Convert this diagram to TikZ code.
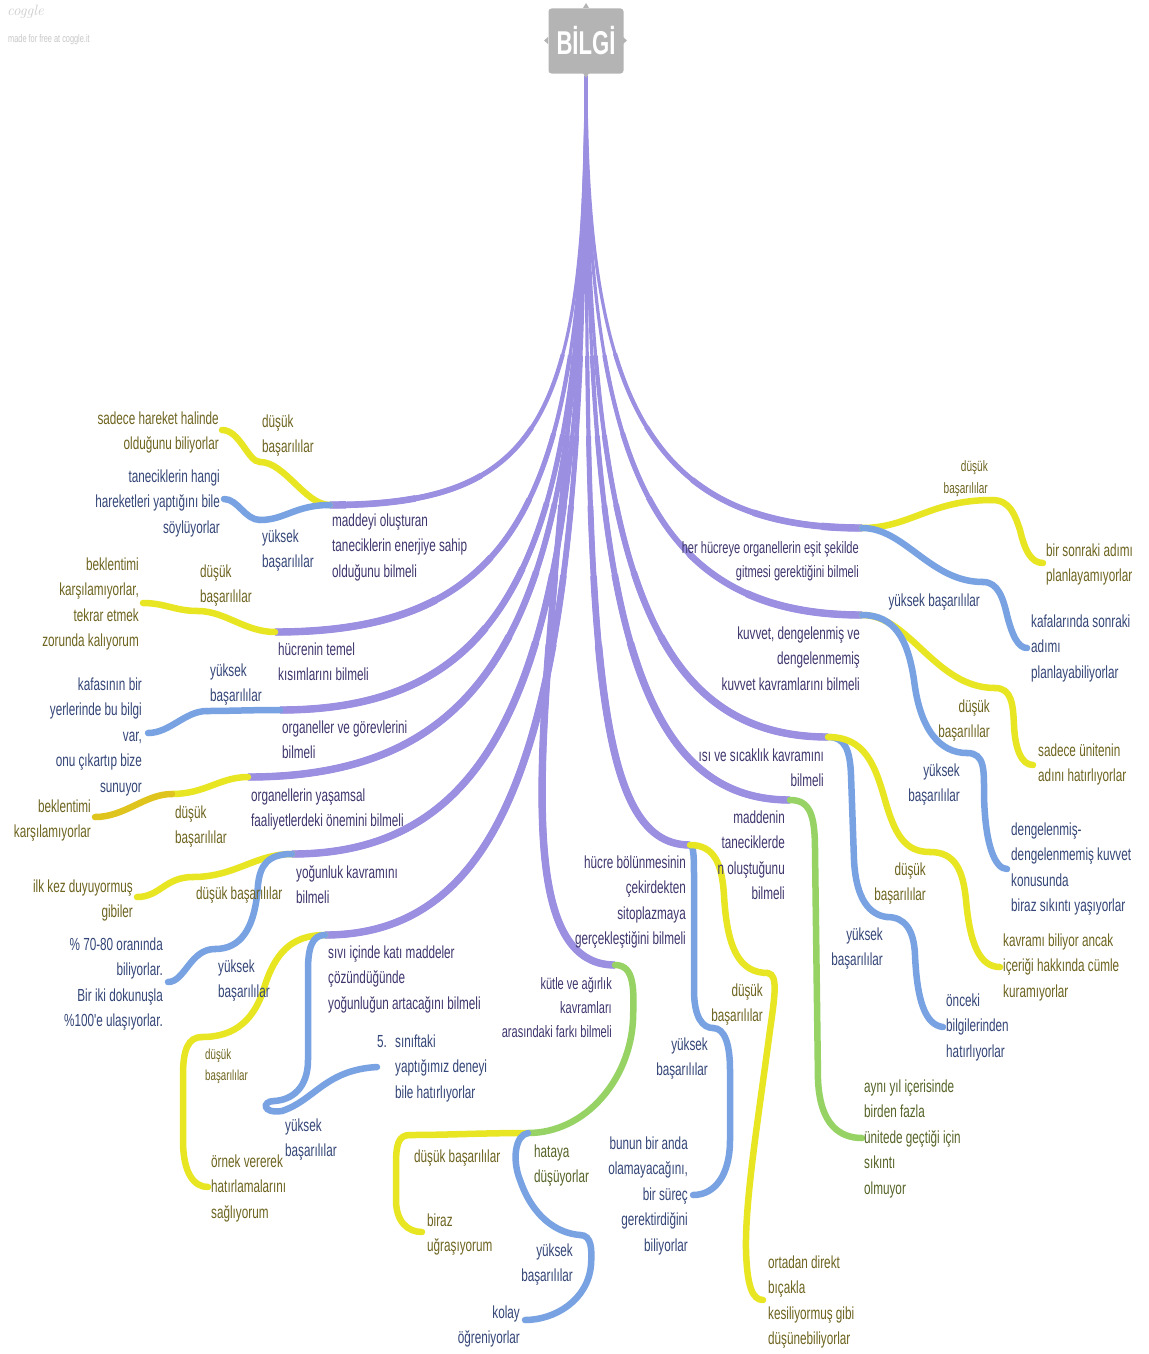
\documentclass[tikz,border=0pt]{standalone}
\usepackage{fontspec}
\newfontfamily\narrowsf[FakeStretch=0.67]{Liberation Sans}
\newcommand\lab{\narrowsf\fontsize{17.5}{25.5}\selectfont}
\newcommand\labsm{\narrowsf\fontsize{16.5}{24}\selectfont}
\newcommand\labxs{\narrowsf\fontsize{15}{22}\selectfont}
\newcommand\labxxs{\narrowsf\fontsize{14.5}{21}\selectfont}
\newcommand\lstr{\rule{0pt}{17pt}}
\definecolor{purc}{RGB}{155,143,226}
\definecolor{yelc}{RGB}{232,230,35}
\definecolor{goldc}{RGB}{224,196,30}
\definecolor{bluc}{RGB}{120,162,226}
\definecolor{grnc}{RGB}{150,210,100}
\definecolor{ptext}{RGB}{62,55,110}
\definecolor{btext}{RGB}{52,70,120}
\definecolor{ytext}{RGB}{110,100,32}
\definecolor{gtext}{RGB}{85,100,40}
\definecolor{rootgray}{RGB}{180,180,180}
% purple first-level branch, thin at the root and growing thicker towards its end
\newcommand\pbranch[1]{%
  \draw[purc,line width=3.2pt] #1;
  \draw[purc,line width=4.2pt,dash pattern=on 0pt off 280pt on 5000pt off 1pt] #1;
  \draw[purc,line width=5.0pt,dash pattern=on 0pt off 360pt on 5000pt off 1pt] #1;
  \draw[purc,line width=5.8pt,dash pattern=on 0pt off 430pt on 5000pt off 1pt] #1;
  \draw[purc,line width=6.6pt,dash pattern=on 0pt off 500pt on 5000pt off 1pt] #1;
  \draw[purc,line width=7.4pt,dash pattern=on 0pt off 570pt on 5000pt off 1pt] #1;}
\begin{document}
\begin{tikzpicture}[x=1pt,y=-1pt,
  L/.style={inner sep=0pt,font=\lab,align=left,anchor=north west},
  R/.style={inner sep=0pt,font=\lab,align=right,anchor=north east},
  pt/.style={text=ptext},
  bt/.style={text=btext},
  yt/.style={text=ytext},
  gt/.style={text=gtext},
  ybr/.style={draw=yelc,line width=6.5pt,line cap=round},
  obr/.style={draw=goldc,line width=6.5pt,line cap=round},
  bbr/.style={draw=bluc,line width=6.5pt,line cap=round},
  gbr/.style={draw=grnc,line width=6.5pt,line cap=round},
  rootbox/.style={fill=rootgray,rounded corners=3pt,minimum width=75pt,minimum height=65pt,
    inner sep=0pt,text=white,font=\narrowsf\bfseries\fontsize{33}{33}\selectfont}]
\path[fill=white,use as bounding box] (0,0) rectangle (1148,1354);

% branch points
\coordinate (root) at (586,76);
\coordinate (pA) at (330,505);  \coordinate (pB) at (275,632);
\coordinate (pC) at (280,710);  \coordinate (pD) at (248,777);
\coordinate (pE) at (292,854);  \coordinate (pF) at (325,935);
\coordinate (pG) at (615,965);  \coordinate (pH) at (690,845);
\coordinate (pI) at (790,800);  \coordinate (pJ) at (828,737);
\coordinate (pK) at (862,615);  \coordinate (pL) at (862,528);
\coordinate (yA) at (260,462);  \coordinate (yAe) at (222,430);
\coordinate (bA) at (260,520);  \coordinate (bAe) at (224,499);
\coordinate (yB) at (198,611);  \coordinate (yBe) at (143,603);
\coordinate (bC) at (207,711);  \coordinate (bCe) at (148,733);
\coordinate (yD) at (172,794);  \coordinate (yDe) at (95,817);
\coordinate (yE) at (193,877);  \coordinate (yEe) at (137,897);
\coordinate (bE) at (215,949);  \coordinate (bEe) at (168,982);
\coordinate (yF) at (202,1037); \coordinate (yFe) at (208,1187);
\coordinate (bF) at (274,1101); \coordinate (bFe) at (377,1067);
\coordinate (gG) at (528,1133); \coordinate (yG) at (410,1135);
\coordinate (yGe) at (422,1232);\coordinate (bG) at (580,1235);
\coordinate (bGe) at (525,1320);
\coordinate (bH) at (713,1028); \coordinate (bHe) at (693,1195);
\coordinate (yH) at (768,973);  \coordinate (yHe) at (763,1300);
\coordinate (gI) at (862,1138);
\coordinate (bJ) at (887,917);  \coordinate (bJe) at (943,1027);
\coordinate (yJ) at (930,852);  \coordinate (yJe) at (1000,967);
\coordinate (yK) at (995,688);  \coordinate (yKe) at (1033,765);
\coordinate (bK) at (967,753);  \coordinate (bKe) at (1007,869);
\coordinate (yL) at (992,500);  \coordinate (yLe) at (1043,563);
\coordinate (bL) at (983,582);  \coordinate (bLe) at (1027,648);

% first-level branches
\pbranch{(root) .. controls (586,420) and (540,505) .. (pA)}
\pbranch{(root) .. controls (586,490) and (525,632) .. (pB)}
\pbranch{(root) .. controls (586,530) and (525,710) .. (pC)}
\pbranch{(root) .. controls (586,570) and (525,777) .. (pD)}
\pbranch{(root) .. controls (586,610) and (530,854) .. (pE)}
\pbranch{(root) .. controls (586,650) and (540,935) .. (pF)}
\pbranch{(root) .. controls (586,520) and (470,965) .. (pG)}
\pbranch{(root) .. controls (586,640) and (592,845) .. (pH)}
\pbranch{(root) .. controls (586,580) and (625,800) .. (pI)}
\pbranch{(root) .. controls (586,540) and (640,737) .. (pJ)}
\pbranch{(root) .. controls (586,460) and (650,615) .. (pK)}
\pbranch{(root) .. controls (586,400) and (650,528) .. (pL)}

% second and third level branches, left side
\draw[ybr] (pA) .. controls (305,505) and (285,462) .. (yA);
\draw[ybr] (yA) .. controls (248,462) and (240,430) .. (yAe);
\draw[bbr] (pA) .. controls (295,505) and (285,520) .. (bA);
\draw[bbr] (bA) .. controls (245,520) and (238,499) .. (bAe);
\draw[ybr] (pB) .. controls (245,632) and (225,611) .. (yB);
\draw[ybr] (yB) .. controls (175,611) and (165,603) .. (yBe);
\draw[bbr] (pC) .. controls (250,710) and (230,711) .. (bC);
\draw[bbr] (bC) .. controls (185,711) and (170,733) .. (bCe);
\draw[ybr] (pD) .. controls (220,777) and (205,794) .. (yD);
\draw[obr] (yD) .. controls (145,794) and (125,817) .. (yDe);
\draw[ybr] (pE) .. controls (255,854) and (235,877) .. (yE);
\draw[ybr] (yE) .. controls (165,877) and (160,897) .. (yEe);
\draw[bbr] (pE) .. controls (268,854) and (260,865) .. (258,885) .. controls (255,930) and (240,949) .. (bE);
\draw[bbr] (bE) .. controls (190,949) and (185,982) .. (bEe);
\draw[ybr] (pF) .. controls (290,935) and (275,955) .. (265,985) .. controls (255,1020) and (235,1037) .. (yF);
\draw[ybr] (yF) .. controls (188,1037) and (183,1050) .. (183,1075) -- (183,1140) .. controls (183,1175) and (195,1187) .. (yFe);
\draw[bbr] (pF) .. controls (312,935) and (308,948) .. (308,970) -- (308,1060) .. controls (308,1088) and (292,1100) .. (bF);
\draw[bbr] (bF) .. controls (262,1101) and (262,1114) .. (282,1111) .. controls (315,1100) and (325,1070) .. (bFe);

% centre
\draw[gbr] (pG) .. controls (635,965) and (634,990) .. (633,1020) .. controls (630,1080) and (585,1133) .. (gG);
\draw[ybr] (gG) .. controls (480,1133) and (450,1135) .. (yG);
\draw[ybr] (yG) .. controls (398,1135) and (396,1145) .. (396,1165) -- (396,1200) .. controls (396,1222) and (408,1232) .. (yGe);
\draw[bbr] (gG) .. controls (515,1135) and (512,1160) .. (520,1180) .. controls (532,1215) and (555,1233) .. (bG);
\draw[bbr] (bG) .. controls (592,1235) and (592,1250) .. (591,1265) .. controls (588,1300) and (555,1320) .. (bGe);
\draw[bbr] (pH) .. controls (694,845) and (694,860) .. (694,880) -- (694,990) .. controls (694,1018) and (703,1028) .. (bH);
\draw[bbr] (bH) .. controls (725,1028) and (730,1045) .. (730,1070) -- (730,1140) .. controls (730,1175) and (715,1195) .. (bHe);
\draw[ybr] (pH) .. controls (715,845) and (722,865) .. (724,895) .. controls (727,950) and (740,973) .. (yH);
\draw[ybr] (yH) .. controls (778,975) and (775,995) .. (770,1030) .. controls (758,1120) and (745,1200) .. (746,1250) .. controls (747,1285) and (752,1300) .. (yHe);
\draw[gbr] (pI) .. controls (810,800) and (815,815) .. (815,850) -- (818,1080) .. controls (820,1125) and (840,1138) .. (gI);

% right side
\draw[bbr] (pJ) .. controls (845,737) and (850,750) .. (851,775) -- (854,860) .. controls (856,900) and (870,915) .. (bJ);
\draw[bbr] (bJ) .. controls (905,917) and (914,930) .. (915,955) .. controls (917,1000) and (925,1025) .. (bJe);
\draw[ybr] (pJ) .. controls (865,737) and (875,765) .. (885,800) .. controls (895,835) and (905,852) .. (yJ);
\draw[ybr] (yJ) .. controls (955,852) and (963,870) .. (966,900) .. controls (970,945) and (980,967) .. (yJe);
\draw[ybr] (pK) .. controls (910,615) and (935,688) .. (yK);
\draw[ybr] (yK) .. controls (1012,688) and (1013,705) .. (1014,725) .. controls (1015,750) and (1022,765) .. (yKe);
\draw[bbr] (pK) .. controls (895,615) and (908,640) .. (914,680) .. controls (920,730) and (940,753) .. (bK);
\draw[bbr] (bK) .. controls (985,753) and (984,770) .. (984,795) .. controls (985,845) and (995,869) .. (bKe);
\draw[ybr] (pL) .. controls (910,528) and (930,500) .. (yL);
\draw[ybr] (yL) .. controls (1010,500) and (1015,515) .. (1020,530) .. controls (1025,552) and (1032,563) .. (yLe);
\draw[bbr] (pL) .. controls (905,528) and (930,582) .. (bL);
\draw[bbr] (bL) .. controls (998,582) and (1003,598) .. (1007,615) .. controls (1012,635) and (1018,648) .. (bLe);

% root
\node[rootbox] (rootnode) at (586,41) {BİLGİ};
\fill[rootgray] (583,8) -- (586,3) -- (589,8) -- cycle;
\fill[rootgray] (583,73) -- (586,78) -- (589,73) -- cycle;
\fill[rootgray] (548,37) -- (544,40.5) -- (548,44) -- cycle;
\fill[rootgray] (623,37) -- (627,40.5) -- (623,44) -- cycle;

% logo
\node[inner sep=0pt,anchor=north west,text=black!20,font=\fontsize{15}{15}\selectfont\itshape] (logo) at (7,5) {coggle};
\node[inner sep=0pt,anchor=north west,text=black!22,font=\narrowsf\fontsize{11}{11}\selectfont] (logotag) at (8,34) {made for free at coggle.it};

% first-level texts
\node[L,pt] (tA) at (332,509) {\lstr maddeyi oluşturan\\taneciklerin enerjiye sahip\\olduğunu bilmeli};
\node[L,pt] (tB) at (278,638) {\lstr hücrenin temel\\kısımlarını bilmeli};
\node[L,pt] (tC) at (282,716) {\lstr organeller ve görevlerini\\bilmeli};
\node[L,pt] (tD) at (251,784) {\lstr organellerin yaşamsal\\faaliyetlerdeki önemini bilmeli};
\node[L,pt] (tE) at (296,861) {\lstr yoğunluk kavramını\\bilmeli};
\node[L,pt] (tF) at (328,941) {\lstr sıvı içinde katı maddeler\\çözündüğünde\\yoğunluğun artacağını bilmeli};
\node[R,pt,font=\labsm] (tG) at (612,972) {\lstr kütle ve ağırlık\\kavramları\\arasındaki farkı bilmeli};
\node[R,pt] (tH) at (686,851) {\lstr hücre bölünmesinin\\çekirdekten\\sitoplazmaya\\gerçekleştiğini bilmeli};
\node[R,pt] (tI) at (785,806) {\lstr maddenin\\taneciklerde\\n oluştuğunu\\bilmeli};
\node[R,pt] (tJ) at (824,744) {\lstr ısı ve sıcaklık kavramını\\bilmeli};
\node[R,pt] (tK) at (860,622) {\lstr kuvvet, dengelenmiş ve\\dengelenmemiş\\kuvvet kavramlarını bilmeli};
\node[R,pt,font=\labsm] (tL) at (859,536) {\lstr her hücreye organellerin eşit şekilde\\gitmesi gerektiğini bilmeli};

% lower-level texts, left
\node[L,yt] (tyA) at (262,410) {\lstr düşük\\başarılılar};
\node[R,yt] (tyAe) at (219,407) {\lstr sadece hareket halinde\\olduğunu biliyorlar};
\node[L,bt] (tbA) at (262,525) {\lstr yüksek\\başarılılar};
\node[R,bt] (tbAe) at (220,465) {\lstr taneciklerin hangi\\hareketleri yaptığını bile\\söylüyorlar};
\node[L,yt] (tyB) at (200,560) {\lstr düşük\\başarılılar};
\node[R,yt] (tyBe) at (139,553) {\lstr beklentimi\\karşılamıyorlar,\\tekrar etmek\\zorunda kalıyorum};
\node[L,bt] (tbC) at (210,659) {\lstr yüksek\\başarılılar};
\node[R,bt] (tbCe) at (142,673) {\lstr kafasının bir\\yerlerinde bu bilgi\\var,\\onu çıkartıp bize\\sunuyor};
\node[L,yt] (tyD) at (175,801) {\lstr düşük\\başarılılar};
\node[R,yt] (tyDe) at (91,795) {\lstr beklentimi\\karşılamıyorlar};
\node[L,yt] (tyE) at (196,882) {\lstr düşük başarılılar};
\node[R,yt] (tyEe) at (133,875) {\lstr ilk kez duyuyormuş\\gibiler};
\node[L,bt] (tbE) at (218,955) {\lstr yüksek\\başarılılar};
\node[R,bt] (tbEe) at (163,933) {\lstr \% 70-80 oranında\\biliyorlar.\\Bir iki dokunuşla\\\%100'e ulaşıyorlar.};
\node[L,yt,font=\labxxs] (tyF) at (205,1042) {\lstr düşük\\başarılılar};
\node[L,yt] (tyFe) at (211,1150) {\lstr örnek vererek\\hatırlamalarını\\sağlıyorum};
\node[L,bt] (tbF) at (285,1114) {\lstr yüksek\\başarılılar};
\node[L,bt] (tbFn) at (377,1030) {\lstr 5.};
\node[L,bt] (tbFe) at (395,1030) {\lstr sınıftaki\\yaptığımız deneyi\\bile hatırlıyorlar};

% centre texts
\node[L,gt] (tgG) at (534,1140) {\lstr hataya\\düşüyorlar};
\node[L,yt] (tyG) at (414,1145) {\lstr düşük başarılılar};
\node[L,yt] (tyGe) at (427,1209) {\lstr biraz\\uğraşıyorum};
\node[R,bt] (tbG) at (573,1239) {\lstr yüksek\\başarılılar};
\node[R,bt] (tbGe) at (520,1301) {\lstr kolay\\öğreniyorlar};
\node[R,bt] (tbH) at (708,1033) {\lstr yüksek\\başarılılar};
\node[R,bt] (tbHe) at (688,1132) {\lstr bunun bir anda\\olamayacağını,\\bir süreç\\gerektirdiğini\\biliyorlar};
\node[R,yt] (tyH) at (763,979) {\lstr düşük\\başarılılar};
\node[L,yt] (tyHe) at (768,1251) {\lstr ortadan direkt\\bıçakla\\kesiliyormuş gibi\\düşünebiliyorlar};
\node[L,gt] (tgI) at (864,1075) {\lstr aynı yıl içerisinde\\birden fazla\\ünitede geçtiği için\\sıkıntı\\olmuyor};

% right texts
\node[R,bt] (tbJ) at (883,923) {\lstr yüksek\\başarılılar};
\node[L,bt] (tbJe) at (946,989) {\lstr önceki\\bilgilerinden\\hatırlıyorlar};
\node[R,yt] (tyJ) at (926,858) {\lstr düşük\\başarılılar};
\node[L,yt] (tyJe) at (1003,929) {\lstr kavramı biliyor ancak\\içeriği hakkında cümle\\kuramıyorlar};
\node[R,yt] (tyK) at (990,695) {\lstr düşük\\başarılılar};
\node[L,yt] (tyKe) at (1038,739) {\lstr sadece ünitenin\\adını hatırlıyorlar};
\node[R,bt] (tbK) at (960,759) {\lstr yüksek\\başarılılar};
\node[L,bt] (tbKe) at (1011,818) {\lstr dengelenmiş-\\dengelenmemiş kuvvet\\konusunda\\biraz sıkıntı yaşıyorlar};
\node[R,yt,font=\labxs] (tyL) at (988,454) {\lstr düşük\\başarılılar};
\node[L,yt] (tyLe) at (1046,539) {\lstr bir sonraki adımı\\planlayamıyorlar};
\node[R,bt] (tbL) at (980,589) {\lstr yüksek başarılılar};
\node[L,bt] (tbLe) at (1031,610) {\lstr kafalarında sonraki\\adımı\\planlayabiliyorlar};
\end{tikzpicture}
\end{document}
